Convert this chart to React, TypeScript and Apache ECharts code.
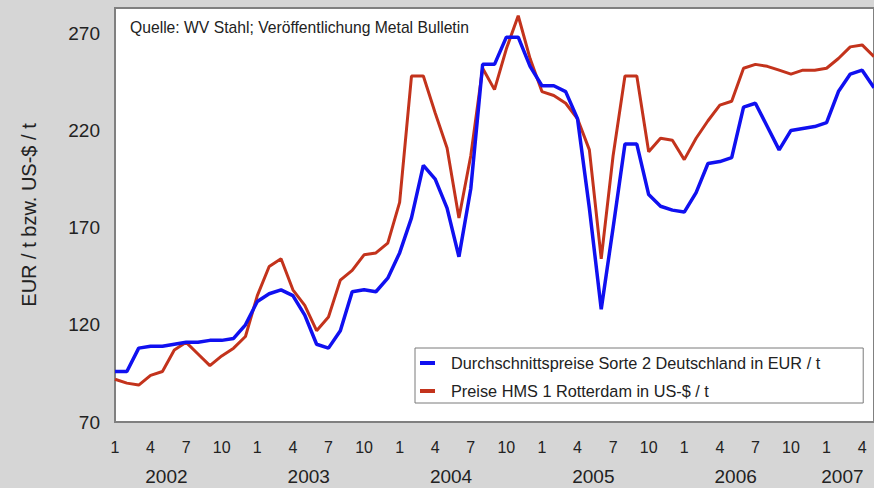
import React, { useEffect, useRef } from "react";
import * as echarts from "echarts";

// ---- data (monthly, Jan 2002 – May 2007) ----
const years = [2002, 2003, 2004, 2005, 2006, 2007];
const yearLabelMonth = [5, 5, 5, 5, 5, 2]; // month under which the year label is shown
const pointCount = 65;

const seriesNames = [
  "Durchschnittspreise Sorte 2 Deutschland in EUR / t",
  "Preise HMS 1 Rotterdam in US-$ / t",
];

// Durchschnittspreise Sorte 2 Deutschland (EUR / t)
const germanyEUR = [
  96, 96, 108, 109, 109, 110, 111, 111, 112, 112, 113, 120,
  132, 136, 138, 135, 125, 110, 108, 117, 137, 138, 137, 144,
  157, 175, 202, 195, 180, 155, 190, 254, 254, 268, 268, 253,
  243, 243, 240, 226, 180, 128, 170, 213, 213, 187, 181, 179,
  178, 188, 203, 204, 206, 232, 234, 222, 210, 220, 221, 222,
  224, 240, 249, 251, 242,
];

// Preise HMS 1 Rotterdam (US-$ / t)
const rotterdamUSD = [
  92, 90, 89, 94, 96, 107, 111, 105, 99, 104, 108, 114,
  135, 150, 154, 138, 130, 117, 124, 143, 148, 156, 157, 162,
  183, 248, 248, 229, 211, 175, 207, 252, 241, 262, 279, 257,
  240, 238, 234, 226, 210, 154, 207, 248, 248, 209, 216, 215,
  205, 216, 225, 233, 235, 252, 254, 253, 251, 249, 251, 251,
  252, 257, 263, 264, 258,
];

const yMin = 70;
const yMax = 283;
const yStep = 50;
const sourceText = "Quelle: WV Stahl; Veröffentlichung Metal Bulletin";
const yAxisTitle = "EUR / t bzw. US-$ / t";

const categories: string[] = [];
for (const y of years) {
  for (let m = 1; m <= 12; m++) {
    if (categories.length < pointCount) categories.push(`${y}-${m}`);
  }
}

const FONT = "'Liberation Sans', Arial, sans-serif";
const TXT = "#222";

export default function App() {
  const ref = useRef<HTMLDivElement>(null);

  useEffect(() => {
    if (!ref.current) return;
    const chart = echarts.init(ref.current, null, { renderer: "svg" });
    chart.setOption({
      animation: false,
      backgroundColor: "#d6d6d6",
      textStyle: { fontFamily: FONT },
      title: {
        text: sourceText,
        left: 130,
        top: 19,
        padding: 0,
        textStyle: { fontSize: 15.7, fontWeight: "normal", color: TXT, fontFamily: FONT },
      },
      legend: {
        orient: "vertical",
        left: 415,
        top: 348,
        padding: [7, 43, 4, 5],
        itemGap: 12,
        itemWidth: 15,
        itemHeight: 4,
        icon: "rect",
        backgroundColor: "#fff",
        borderColor: "#7a7a7a",
        borderWidth: 1,
        textStyle: { fontSize: 16.3, color: TXT, fontFamily: FONT, padding: [0, 0, 0, 11] },
        data: seriesNames,
      },
      grid: {
        left: 115,
        right: -5,
        top: 8,
        bottom: 66,
        show: true,
        backgroundColor: "#ffffff",
        borderColor: "#808080",
        borderWidth: 2,
      },
      xAxis: [
        {
          type: "category",
          data: categories,
          boundaryGap: false,
          axisLine: { show: false },
          axisTick: { show: false },
          splitLine: { show: false },
          axisLabel: {
            interval: (index: number) => index % 3 === 0,
            formatter: (v: string) => v.split("-")[1],
            fontSize: 16,
            color: TXT,
            margin: 17,
            fontFamily: FONT,
          },
        },
        {
          type: "category",
          data: categories,
          position: "bottom",
          boundaryGap: false,
          offset: 28,
          axisLine: { show: false },
          axisTick: { show: false },
          splitLine: { show: false },
          axisLabel: {
            interval: (index: number) => {
              const [y, m] = categories[index].split("-").map(Number);
              return yearLabelMonth[years.indexOf(y)] === m;
            },
            formatter: (v: string) => v.split("-")[0],
            fontSize: 19,
            color: TXT,
            margin: 17,
            padding: [0, 0, 0, 8],
            fontFamily: FONT,
          },
        },
      ],
      yAxis: {
        type: "value",
        min: yMin,
        max: yMax,
        interval: yStep,
        name: yAxisTitle,
        nameLocation: "middle",
        nameRotate: 90,
        nameGap: 76,
        nameTextStyle: { fontSize: 20, color: TXT, fontFamily: FONT },
        axisLine: { show: false },
        axisTick: { show: false },
        splitLine: { show: false },
        axisLabel: {
          fontSize: 19,
          color: TXT,
          margin: 15,
          showMaxLabel: false,
          fontFamily: FONT,
        },
      },
      series: [
        {
          name: seriesNames[0],
          type: "line",
          data: germanyEUR,
          showSymbol: false,
          symbol: "none",
          color: "#1010f0",
          lineStyle: { width: 3.5, color: "#1010f0" },
          z: 3,
        },
        {
          name: seriesNames[1],
          type: "line",
          data: rotterdamUSD,
          showSymbol: false,
          symbol: "none",
          color: "#c3331c",
          lineStyle: { width: 3, color: "#c3331c" },
          z: 2,
        },
      ],
    });
    return () => chart.dispose();
  }, []);

  return (
    <div
      ref={ref}
      style={{ width: 874, height: 488, position: "absolute", left: 0, top: 0 }}
    />
  );
}
